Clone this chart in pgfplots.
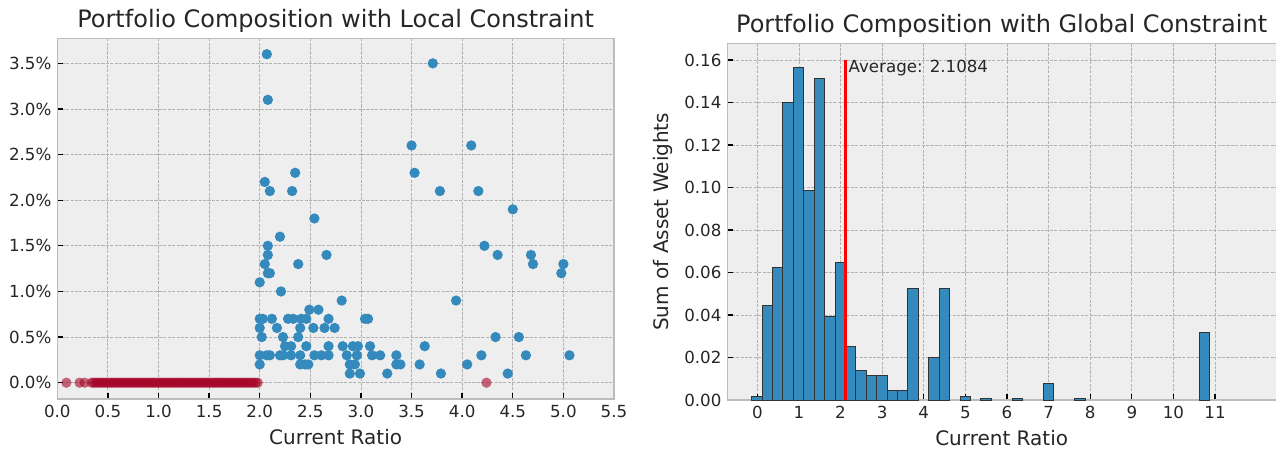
\documentclass[border=0pt]{standalone}
\usepackage{fontspec}
\setmainfont{DejaVu Sans}
\usepackage{pgfplots}
\pgfplotsset{compat=1.18}

\definecolor{bmhblue}{HTML}{348ABD}
\definecolor{bmhred}{HTML}{A60628}
\definecolor{panel}{HTML}{EEEEEE}
\definecolor{spine}{HTML}{BCBCBC}
\definecolor{gridc}{HTML}{B2B2B2}

\pgfplotsset{
  bmh/.style={
    scale only axis,
    axis background/.style={fill=panel},
    axis line style={spine, line width=0.8pt},
    grid=major,
    major grid style={gridc, line width=0.5pt, dash pattern=on 1.85pt off 0.8pt},
    tick align=inside,
    tick pos=left,
    major tick length=3.5pt,
    tick style={black, line width=0.8pt},
    tick label style={font=\fontsize{10}{12}\selectfont, text=black!85},
    label style={font=\fontsize{12}{14}\selectfont, text=black!85},
    every axis title/.style={font=\fontsize{14.4}{17}\selectfont, text=black!85,
      at={(0.5,1)}, anchor=base, yshift=6.6pt},
    /pgf/number format/assume math mode=true,
  },
}

\begin{document}
\begin{tikzpicture}
\path[use as bounding box] (-34.38pt,-31.8pt) rectangle (731.2pt,239.4pt);

% local constraint: weight of each asset against its current ratio
\begin{axis}[bmh,
    at={(0,0)}, anchor=south west,
    width=334pt, height=216.4pt,
    xmin=0, xmax=5.5, ymin=-0.179, ymax=3.774,
    xtick={0,0.5,1,1.5,2,2.5,3,3.5,4,4.5,5,5.5},
    ytick={0,0.5,1,1.5,2,2.5,3,3.5},
    xticklabel={\pgfmathprintnumber[fixed,fixed zerofill,precision=1]{\tick}},
    yticklabel={\pgfmathprintnumber[fixed,fixed zerofill,precision=1]{\tick}\%},
    xlabel={Current Ratio},
    title={Portfolio Composition with Local Constraint},
  ]
\addplot[only marks, mark=*, mark size=3.1pt,
  mark options={draw opacity=0, fill=bmhred, fill opacity=0.6}] coordinates {
  (0.09,0) (0.22,0) (0.27,0) (0.34,0) (0.36,0) (0.38,0) (0.40,0) (0.42,0)
  (0.44,0) (0.46,0) (0.48,0) (0.50,0) (0.52,0) (0.54,0) (0.56,0) (0.58,0)
  (0.60,0) (0.62,0) (0.64,0) (0.66,0) (0.68,0) (0.70,0) (0.72,0) (0.74,0)
  (0.76,0) (0.78,0) (0.80,0) (0.82,0) (0.84,0) (0.86,0) (0.88,0) (0.90,0)
  (0.92,0) (0.94,0) (0.96,0) (0.98,0) (1.00,0) (1.02,0) (1.04,0) (1.06,0)
  (1.08,0) (1.10,0) (1.12,0) (1.14,0) (1.16,0) (1.18,0) (1.20,0) (1.22,0)
  (1.24,0) (1.26,0) (1.28,0) (1.30,0) (1.32,0) (1.34,0) (1.36,0) (1.38,0)
  (1.40,0) (1.42,0) (1.44,0) (1.46,0) (1.48,0) (1.50,0) (1.52,0) (1.54,0)
  (1.56,0) (1.58,0) (1.60,0) (1.62,0) (1.64,0) (1.66,0) (1.68,0) (1.70,0)
  (1.72,0) (1.74,0) (1.76,0) (1.78,0) (1.80,0) (1.82,0) (1.84,0) (1.86,0)
  (1.88,0) (1.90,0) (1.92,0) (1.94,0) (1.96,0) (1.98,0) (4.24,0)
};
\addplot[only marks, mark=*, mark size=3.1pt,
  mark options={draw opacity=0, fill=bmhblue}] coordinates {
  (2.07,3.6) (2.08,3.1) (3.71,3.5) (2.05,2.2) (2.10,2.1) (2.35,2.3) (2.32,2.1)
  (2.54,1.8) (3.50,2.6) (3.53,2.3) (3.78,2.1) (4.09,2.6) (4.16,2.1) (4.50,1.9)
  (2.20,1.6) (2.08,1.5) (2.08,1.4) (2.05,1.3) (2.08,1.2) (2.10,1.2) (2.00,1.1)
  (2.21,1.0) (2.38,1.3) (2.66,1.4) (2.81,0.9) (3.94,0.9) (4.22,1.5) (4.35,1.4)
  (4.68,1.4) (4.70,1.3) (5.00,1.3) (4.98,1.2)
  (2.49,0.8) (2.58,0.8)
  (2.00,0.7) (2.03,0.7) (2.12,0.7) (2.28,0.7) (2.33,0.7) (2.41,0.7) (2.46,0.7)
  (2.68,0.7) (3.04,0.7) (3.07,0.7)
  (2.00,0.6) (2.17,0.6) (2.40,0.6) (2.53,0.6) (2.64,0.6) (2.74,0.6)
  (2.02,0.5) (2.23,0.5) (2.38,0.5) (4.33,0.5) (4.56,0.5)
  (2.25,0.4) (2.31,0.4) (2.46,0.4) (2.68,0.4) (2.82,0.4) (2.92,0.4) (2.97,0.4)
  (3.09,0.4) (3.63,0.4)
  (2.00,0.3) (2.07,0.3) (2.10,0.3) (2.20,0.3) (2.23,0.3) (2.31,0.3) (2.40,0.3)
  (2.54,0.3) (2.61,0.3) (2.68,0.3) (2.86,0.3) (2.96,0.3) (3.11,0.3) (3.19,0.3)
  (3.35,0.3) (4.19,0.3) (4.63,0.3) (5.06,0.3)
  (2.00,0.2) (2.40,0.2) (2.45,0.2) (2.48,0.2) (2.89,0.2) (2.94,0.2) (3.35,0.2)
  (3.39,0.2) (3.58,0.2) (4.05,0.2)
  (2.89,0.1) (2.99,0.1) (3.26,0.1) (3.79,0.1) (4.45,0.1)
};
\end{axis}

% global constraint: summed weights per current-ratio bin
\begin{axis}[bmh,
    at={(402pt,-0.6pt)}, anchor=south west,
    width=331pt, height=213.9pt,
    xmin=-0.721, xmax=12.537, ymin=0, ymax=0.1678,
    xtick={0,1,2,3,4,5,6,7,8,9,10,11},
    ytick={0,0.02,0.04,0.06,0.08,0.10,0.12,0.14,0.16},
    scaled y ticks=false,
    yticklabel={\pgfmathprintnumber[fixed,fixed zerofill,precision=2]{\tick}},
    xlabel={Current Ratio},
    xlabel style={xshift=-0.9pt},
    ylabel={Sum of Asset Weights},
    title={Portfolio Composition with Global Constraint},
    title style={xshift=-0.9pt},
  ]
\addplot[ybar, bar width=0.2503, bar shift=0pt,
  fill=bmhblue, draw=black!80, line width=0.6pt] coordinates {
  (-0.0099,0.0015) (0.2405,0.0446) (0.4908,0.0623) (0.7412,0.1400)
  (0.9914,0.1563) (1.2418,0.0984) (1.4920,0.1515) (1.7424,0.0392)
  (1.9926,0.0648) (2.2430,0.0250) (2.4932,0.0140) (2.7436,0.0117)
  (2.9938,0.0117) (3.2442,0.0044) (3.4944,0.0044) (3.7448,0.0524)
  (4.2454,0.0202) (4.4956,0.0524) (4.9962,0.0015) (5.4968,0.0008)
  (6.2478,0.0008) (6.9986,0.0079) (7.7496,0.0008) (10.7532,0.0320)
};
\addplot[red, line width=1.8pt] coordinates {(2.1084,0) (2.1084,0.16)};
\node[anchor=north west, inner sep=0pt, font=\fontsize{10}{12}\selectfont,
  text=black!85] at (axis cs:2.187,0.1603) {Average: 2.1084};
\end{axis}
\end{tikzpicture}
\end{document}
